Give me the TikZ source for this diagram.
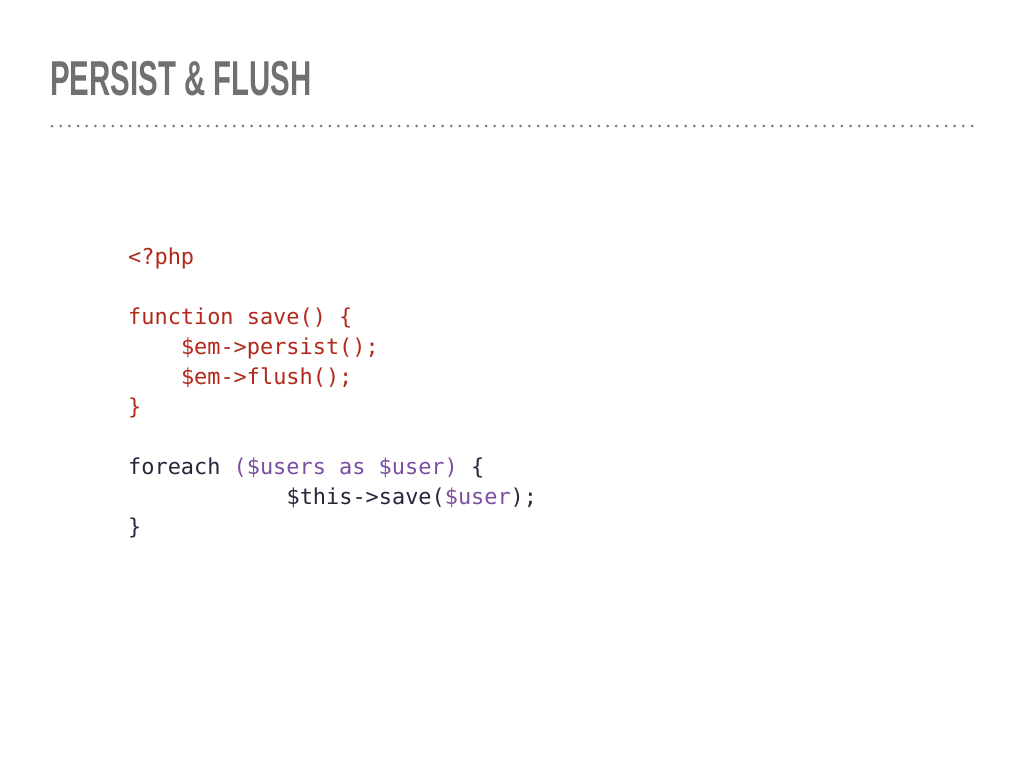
\documentclass[tikz,border=0pt]{standalone}
\usepackage{fontspec}
\setmonofont{DejaVu Sans Mono}
\newfontfamily\titlefont[FakeStretch=0.6]{Liberation Sans}
\definecolor{titlegray}{RGB}{112,112,112}
\definecolor{dotgray}{RGB}{125,125,125}
\definecolor{phpred}{RGB}{178,40,26}
\definecolor{phpvar}{RGB}{124,78,160}
\definecolor{phpdark}{RGB}{40,38,58}

\begin{document}
\begin{tikzpicture}
        [
        x=1pt, y=-1pt,
        title/.style={anchor=base west,inner sep=0pt,text=titlegray,font=\titlefont\bfseries\fontsize{49}{55}\selectfont},
        code/.style={anchor=base west,inner sep=0pt,font=\ttfamily\fontsize{21.9}{30}\selectfont},
        rule/.style={dotgray,line width=3pt,line cap=round,dash pattern=on 0pt off 8.68pt}
        ]
    \useasboundingbox (0,0) rectangle (1024,768);
    \node[title] (head) at (50,95) {PERSIST \& FLUSH};
    \coordinate (rulel) at (52,126);
    \coordinate (ruler) at (973,126);
    \draw[rule] (rulel) -- (ruler);
    % save()
    \node[code,text=phpred] (open) at (128,264) {<?php};
    \node[code,text=phpred] (func) at (128,324) {function save() \{};
    \node[code,text=phpred] (persist) at (180.8,354) {\$em->persist();};
    \node[code,text=phpred] (flush) at (180.8,384) {\$em->flush();};
    \node[code,text=phpred] (funcend) at (128,414) {\}};
    % loop
    \node[code,text=phpdark] (loop) at (128,474) {foreach \textcolor{phpvar}{(\$users as \$user)} \{};
    \node[code,text=phpdark] (call) at (286.4,504) {\$this->save(\textcolor{phpvar}{\$user});};
    \node[code,text=phpdark] (loopend) at (128,534) {\}};
\end{tikzpicture}
\end{document}
